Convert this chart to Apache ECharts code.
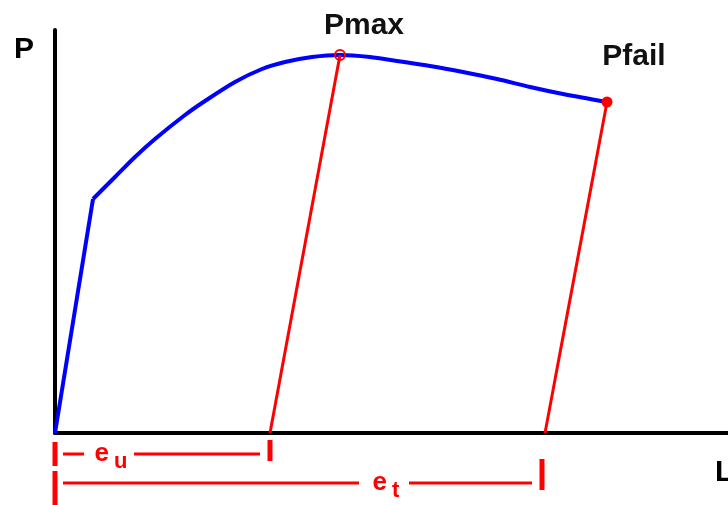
<!DOCTYPE html>
<html>
<head>
<meta charset="utf-8">
<script src="https://cdn.jsdelivr.net/npm/echarts@6/dist/echarts.min.js"></script>
<style>
  html, body { margin: 0; padding: 0; background: #fff; }
  #main { width: 728px; height: 505px; }
</style>
</head>
<body>
<div id="main"></div>
<script>
// load / extension curve (L across, P up)
var curveL = [0, 38, 60, 80, 100, 130, 150, 180, 207, 230, 257, 285, 315, 342, 375, 408, 442, 475, 508, 552]
var curveP = [0, 234, 256, 276, 294, 318, 332, 351, 364, 371, 376, 378, 376, 372, 367, 361, 354, 346, 339, 331]

// marked points and where their unloading lines meet the L axis
var pointNames = ['Pmax', 'Pfail']
var pointL = [285, 552]
var pointP = [378, 331]
var unloadL = [215, 490]

// strain dimensions under the axis: e_u and e_t
var dimNames = ['u', 't']
var dimEnd = [215, 487]
var dimRow = [-21, -50]
var dimLabelAt = [56, 331]

var font = '"Liberation Sans", Arial, sans-serif'
var red = '#ff0000'

var curve = curveL.map(function (l, i) { return [l, curveP[i]] })
var series = []

// straight elastic part, then the smooth plastic part
series.push({
  type: 'line',
  data: curve.slice(0, 2),
  symbol: 'none',
  lineStyle: { color: '#0000ff', width: 4 },
  z: 2
})
series.push({
  type: 'line',
  data: curve.slice(1),
  symbol: 'none',
  smooth: 0.3,
  lineStyle: { color: '#0000ff', width: 4 },
  z: 2
})

pointL.forEach(function (l, i) {
  series.push({
    type: 'line',
    data: [[l, pointP[i]], [unloadL[i], 0]],
    symbol: 'none',
    lineStyle: { color: red, width: 3 },
    z: 3
  })
})

series.push({
  type: 'scatter',
  data: [
    { value: [pointL[0], pointP[0]], name: pointNames[0], symbol: 'circle', symbolSize: 10,
      itemStyle: { color: 'rgba(0,0,0,0)', borderColor: red, borderWidth: 2 },
      label: { offset: [24, -29] } },
    { value: [pointL[1], pointP[1]], name: pointNames[1], symbol: 'circle', symbolSize: 11,
      itemStyle: { color: red },
      label: { offset: [27, -45] } }
  ],
  itemStyle: { opacity: 1 },
  label: {
    show: true,
    position: 'inside',
    formatter: '{b}',
    color: '#111',
    fontFamily: font,
    fontWeight: 'bold',
    fontSize: 30
  },
  z: 4
})

// dimension lines (outside the plot, so no clipping)
dimEnd.forEach(function (end, i) {
  var row = dimRow[i]
  var mid = dimLabelAt[i]
  var segs = [
    { d: [[0, row + 12], [0, row - 12 - 10 * i]], w: 5 },
    { d: [[8, row], [mid - 27, row]], w: 3 },
    { d: [[mid + 23, row], [end - 10, row]], w: 3 },
    { d: [[end, row + 14 + 10 * i], [end, row - 7]], w: 5 }
  ]
  segs.forEach(function (s) {
    series.push({
      type: 'line',
      data: s.d,
      symbol: 'none',
      clip: false,
      silent: true,
      lineStyle: { color: red, width: s.w }
    })
  })
})

series.push({
  type: 'scatter',
  clip: false,
  symbolSize: 0,
  itemStyle: { opacity: 1 },
  data: dimNames.map(function (n, i) { return { value: [dimLabelAt[i], dimRow[i]], name: n } }),
  label: {
    show: true,
    position: 'inside',
    formatter: function (p) { return '{e|e}{s|' + p.name + '}' },
    rich: {
      e: { color: red, fontFamily: font, fontWeight: 'bold', fontSize: 26 },
      s: { color: red, fontFamily: font, fontWeight: 'bold', fontSize: 22, padding: [16, 0, 0, 5] }
    }
  }
})

var option = {
  animation: false,
  backgroundColor: '#fff',
  grid: { left: 55, right: 0, top: 30, bottom: 72, outerBoundsMode: 'none', containLabel: false },
  xAxis: {
    type: 'value',
    min: 0,
    max: 673,
    name: 'L',
    nameLocation: 'end',
    nameGap: -13,
    nameTextStyle: { color: '#000', fontFamily: font, fontWeight: 'bold', fontSize: 30, verticalAlign: 'top', lineHeight: 80 },
    axisLine: { lineStyle: { color: '#000', width: 4 } },
    axisTick: { show: false },
    axisLabel: { show: false },
    splitLine: { show: false }
  },
  yAxis: {
    type: 'value',
    min: 0,
    max: 403,
    name: 'P',
    nameLocation: 'end',
    nameGap: -35,
    nameTextStyle: { color: '#000', fontFamily: font, fontWeight: 'bold', fontSize: 30, align: 'right', padding: [0, 21, 0, 0] },
    axisLine: { lineStyle: { color: '#000', width: 4 } },
    axisTick: { show: false },
    axisLabel: { show: false },
    splitLine: { show: false }
  },
  series: series
}

var myChart = echarts.init(document.getElementById('main'))
myChart.setOption(option)
</script>
</body>
</html>
